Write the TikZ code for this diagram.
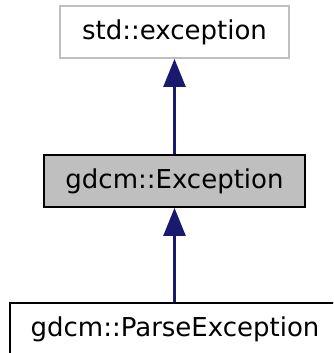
\documentclass[tikz,border=0pt]{standalone}
\usepackage{fontspec}
\setmainfont{DejaVu Sans}
\usetikzlibrary{arrows.meta}
\definecolor{edgeblue}{RGB}{25,25,112}
\definecolor{boxgray}{RGB}{191,191,191}
\definecolor{extgray}{RGB}{191,191,191}
\tikzset{
	classbox/.style = {draw, line width = 1.8pt, inner sep = 0pt, minimum height = 52pt, font = \fontsize{26}{31}\selectfont},
	inherit/.style = {edgeblue, line width = 2.4pt, -{Triangle[length = 28pt, width = 22pt]}}
}
\begin{document}
\begin{tikzpicture} [x = 1pt, y = -1pt]
	\useasboundingbox (0,0) rectangle (333,353);
	\begin{scope}
	\clip (0,0) rectangle (333,353);
	\node [classbox, draw = extgray, minimum width = 229pt] (stdexc) at (174.5,32) {std::exception};
	\node [classbox, fill = boxgray, minimum width = 261pt] (gdcmexc) at (174.5,181) {gdcm::Exception};
	\node [classbox, minimum width = 330pt] (parseexc) at (175,329) {gdcm::ParseException};
	\draw [inherit] (gdcmexc.north -| stdexc.south) -- (stdexc.south);
	\draw [inherit] (parseexc.north -| gdcmexc.south) -- (gdcmexc.south);
	\end{scope}
\end{tikzpicture}
\end{document}
